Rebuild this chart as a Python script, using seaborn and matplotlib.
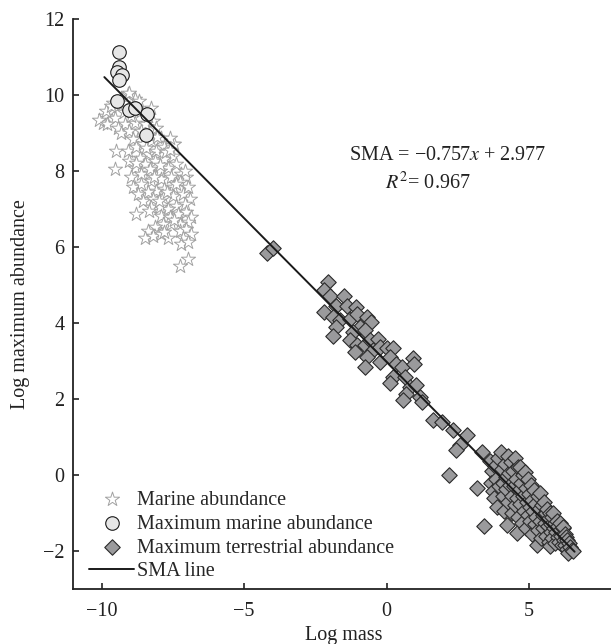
import numpy as np
import seaborn as sns
import matplotlib.pyplot as plt

# marine abundance (stars)
marine_x = [-9.95, -9.72, -9.89, -9.54, -9.43, -9.19, -9.31, -9.02, -8.84, -9.08,
            -8.84, -9.31, -8.67, -8.61, -8.25, -8.20, -8.08, -8.49, -8.72, -8.90,
            -9.48, -9.54, -9.08, -8.78, -8.55, -8.25, -7.90, -7.67, -7.50, -7.79,
            -8.08, -8.37, -8.66, -9.02, -8.84, -8.49, -8.14, -7.79, -7.50, -7.38,
            -7.67, -7.96, -8.31, -8.61, -8.96, -8.90, -8.61, -8.25, -7.90, -7.55,
            -7.20, -7.03, -7.08, -7.26, -7.50, -7.79, -8.08, -8.37, -8.72, -8.55,
            -8.20, -7.85, -7.50, -7.14, -6.97, -6.91, -7.08, -7.38, -7.67, -7.96,
            -8.25, -8.78, -7.90, -7.61, -7.32, -7.03, -6.85, -6.97, -7.26, -7.55,
            -7.85, -8.14, -8.37, -8.49, -8.20, -7.90, -7.67, -7.79, -7.26, -7.03,
            -6.85, -7.14, -7.20, -6.97, -6.97, -7.26, -9.43, -8.90, -8.37, -9.84,
            -9.02, -7.44, -7.61, -9.60, -9.20,
            -10.10, -9.80, -9.65, -9.25, -8.95, -8.60, -8.35, -8.05, -7.75, -8.45,
            -8.80, -8.30, -7.95, -7.60, -7.40, -8.15, -7.70, -8.00, -8.35, -7.45]
marine_y = [9.27, 9.54, 9.45, 9.40, 9.14, 9.23, 9.01, 9.06, 9.27, 10.02,
            9.89, 9.93, 9.84, 9.58, 9.67, 9.32, 9.14, 9.23, 8.88, 8.84,
            8.53, 8.05, 8.53, 8.62, 8.71, 8.79, 8.88, 8.75, 8.71, 8.62,
            8.53, 8.44, 8.35, 8.27, 8.09, 8.18, 8.27, 8.31, 8.40, 8.18,
            8.09, 8.01, 7.96, 7.92, 7.83, 7.57, 7.66, 7.74, 7.79, 7.83,
            7.92, 7.83, 8.01, 7.70, 7.57, 7.53, 7.48, 7.44, 7.39, 7.22,
            7.26, 7.30, 7.35, 7.39, 7.57, 7.26, 7.13, 7.09, 7.00, 7.04,
            7.04, 6.87, 6.82, 6.78, 6.87, 6.91, 6.78, 6.65, 6.61, 6.61,
            6.61, 6.52, 6.43, 6.25, 6.30, 6.34, 6.25, 6.39, 6.43, 6.47,
            6.34, 6.25, 6.08, 6.12, 5.69, 5.51, 9.71, 9.67, 9.45, 9.58,
            10.06, 8.71, 8.88, 9.80, 9.55,
            9.35, 9.25, 9.70, 9.78, 9.45, 9.05, 8.95, 8.90, 8.50, 8.60,
            8.20, 8.05, 8.15, 8.55, 7.65, 7.85, 7.45, 7.20, 6.95, 6.70]

# maximum marine abundance (circles)
max_marine_x = [-9.39, -9.39, -9.46, -9.27, -9.37, -9.46, -9.02, -8.81, -8.41, -8.45]
max_marine_y = [11.14, 10.74, 10.60, 10.52, 10.39, 9.84, 9.60, 9.67, 9.49, 8.95]

# maximum terrestrial abundance (diamonds)
terr_x = [-4.19, -3.98, -2.07, -2.20, -1.99, -2.20, -1.49, -1.76, -1.40, -1.08,
          -1.88, -1.64, -1.78, -1.88, -1.29, -1.03, -0.70, -0.53, -0.94, -1.17,
          -1.29, -0.76, -1.05, -1.11, -0.76, -0.59, -0.29, -0.49, -0.70, -0.76,
          -0.24, 0.00, -0.24, 0.23, 0.12, 0.35, 0.53, 0.94, 0.96, 0.23,
          0.12, 0.64, 0.82, 1.05, 0.70, 1.17, 0.57, 1.23, 1.64, 1.93,
          2.34, 2.81, 2.57, 2.43, 3.34, 2.20, 3.18, 3.43,
          3.62, 3.70, 3.65, 3.72, 3.80, 3.85, 3.78, 3.88, 3.90, 3.95,
          4.02, 4.05, 4.08, 4.10, 4.12, 4.15, 4.18, 4.20, 4.22, 4.25, 4.28, 4.30,
          4.35, 4.38, 4.40, 4.42, 4.45, 4.48, 4.50, 4.52, 4.55, 4.57, 4.58, 4.60,
          4.62, 4.65, 4.68, 4.70, 4.72, 4.75, 4.78, 4.80, 4.82, 4.86, 4.88, 4.90,
          4.92, 4.95, 4.98,
          5.00, 5.02, 5.05, 5.08, 5.10, 5.12, 5.15, 5.18, 5.20, 5.22, 5.25, 5.27,
          5.30, 5.33, 5.35, 5.38,
          5.40, 5.42, 5.45, 5.48, 5.50, 5.52, 5.55, 5.58, 5.60, 5.62, 5.65, 5.68,
          5.70, 5.72, 5.74, 5.76, 5.78,
          5.80, 5.82, 5.85, 5.88, 5.90, 5.92, 5.95, 5.98, 6.00, 6.03, 6.05, 6.08,
          6.10, 6.12, 6.15, 6.18, 6.20,
          6.22, 6.25, 6.28, 6.30, 6.33, 6.35, 6.38, 6.40, 6.45, 6.50, 6.55]
terr_y = [5.83, 5.98, 5.07, 4.86, 4.72, 4.29, 4.72, 4.46, 4.46, 4.42,
          4.16, 4.07, 3.89, 3.65, 4.11, 4.24, 4.17, 4.02, 3.89, 3.76,
          3.54, 3.81, 3.41, 3.24, 3.41, 3.54, 3.59, 3.28, 3.11, 2.84,
          3.37, 3.35, 2.97, 3.33, 3.11, 2.93, 2.84, 3.09, 2.93, 2.58,
          2.41, 2.58, 2.32, 2.36, 2.14, 2.05, 1.97, 1.92, 1.44, 1.40,
          1.18, 1.05, 0.79, 0.66, 0.61, 0.00, -0.33, -1.34,
          0.38, 0.10, -0.20, -0.42, 0.25, -0.10, -0.60, -0.85, 0.45, -0.30,
          0.60, 0.15, -0.20, -0.55, -0.95, 0.30, -0.05, -0.38, -1.31, 0.50, -0.70, 0.05,
          -0.25, 0.35, -0.55, -1.00, 0.10, -0.30, -0.80, 0.45, -0.10, -1.53, -0.60, 0.20,
          -1.10, -0.40, 0.22, -0.75, -0.20, -1.25, 0.00, -0.55, -0.95, 0.09, -0.35, -1.40,
          -0.70, -0.10, -1.05,
          -0.50, -0.85, -1.20, -0.25, -0.65, -1.55, -0.95, -0.40, -1.30, -0.75, -1.10, -1.84,
          -0.55, -1.45, -0.90, -0.48,
          -1.20, -1.65, -0.80, -1.05, -1.40, -0.70, -1.25, -1.00, -1.60, -0.90, -1.35, -1.15,
          -1.75, -1.00, -1.88, -1.30, -1.50,
          -1.10, -1.65, -1.00, -1.40, -1.25, -1.80, -1.50, -1.20, -1.62, -1.35, -1.75, -1.45,
          -1.25, -1.60, -1.85, -1.40, -1.36,
          -1.70, -1.55, -1.85, -1.62, -1.95, -1.72, -2.06, -1.80, -1.90, -1.97, -2.00]

# SMA fit
sma_slope = -0.757
sma_intercept = 2.977
sma_r2 = 0.967
sma_range = [-9.9, 6.6]

sns.set_style('ticks')
plt.rcParams['font.family'] = ['Liberation Serif', 'DejaVu Serif']
plt.rcParams['mathtext.fontset'] = 'stix'
FS = 14.5

fig = plt.figure(figsize=(6.11, 6.44), dpi=100)
ax = fig.add_axes([73 / 611, 55 / 644, 541.5 / 611, 570 / 644])

sns.scatterplot(x=marine_x, y=marine_y, ax=ax, marker='*', s=115,
                color='white', edgecolor='#a2a2a2', linewidth=0.7,
                label='Marine abundance', zorder=2)
sns.scatterplot(x=terr_x, y=terr_y, ax=ax, marker='D', s=62,
                color='#9a9a9c', edgecolor='#2a2a2a', linewidth=0.8,
                label='Maximum terrestrial abundance', zorder=3)
sns.scatterplot(x=max_marine_x, y=max_marine_y, ax=ax, marker='o', s=95,
                color='#e6e6e6', edgecolor='#1a1a1a', linewidth=0.8,
                label='Maximum marine abundance', zorder=4)

line_x = np.array(sma_range)
sns.lineplot(x=line_x, y=sma_slope * line_x + sma_intercept, ax=ax,
             color='#1a1a1a', linewidth=1.4, label='SMA line', zorder=5)

ax.set_xlim(-11, 8)
ax.set_ylim(-3, 12)
ax.set_xticks([-10, -5, 0, 5])
ax.set_yticks([-2, 0, 2, 4, 6, 8, 10, 12])
sns.despine(ax=ax)
for sp in ['left', 'bottom']:
    ax.spines[sp].set_linewidth(1.3)
    ax.spines[sp].set_color('#222222')
ax.tick_params(axis='both', direction='in', length=4, width=1.2,
               color='#222222', labelsize=FS, labelcolor='#222222')
ax.tick_params(axis='x', pad=9)
ax.tick_params(axis='y', pad=6)

ax.set_xlabel('Log mass', fontsize=FS, color='#222222')
ax.set_ylabel('Log maximum abundance', fontsize=FS, color='#222222')
ax.yaxis.set_label_coords(-0.080, 0.5)

ax.text(2.15, 8.40, 'SMA = \u2212%.3f$x$ + %.3f' % (-sma_slope, sma_intercept),
        fontsize=FS, ha='center', va='center', color='#222222')
ax.text(1.45, 7.69, '$R^2$= %.3f' % sma_r2,
        fontsize=FS, ha='center', va='center', color='#222222')

handles, labels = ax.get_legend_handles_labels()
order = [labels.index(l) for l in ['Marine abundance', 'Maximum marine abundance',
                                   'Maximum terrestrial abundance', 'SMA line']]
ax.legend([handles[i] for i in order], [labels[i] for i in order],
          loc='lower left', bbox_to_anchor=(0.008, -0.008), frameon=False,
          fontsize=FS, handlelength=2.2, handletextpad=0.15, labelspacing=0.24,
          borderaxespad=0.2)

fig.savefig('out.png', dpi=100)
